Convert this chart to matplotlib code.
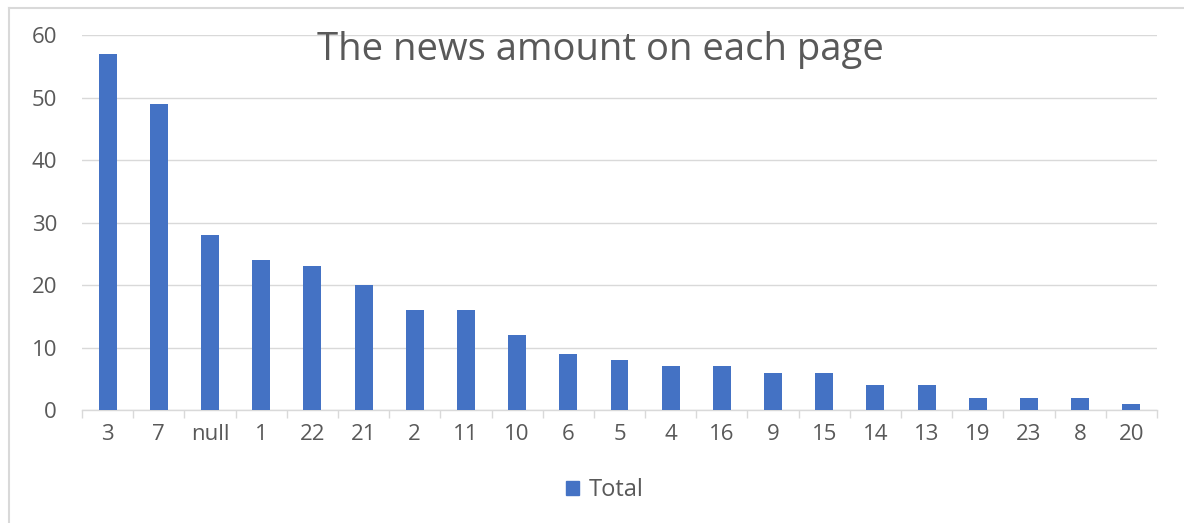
import numpy as np
import matplotlib
matplotlib.use("Agg")
import matplotlib.pyplot as plt
from matplotlib.lines import Line2D
from matplotlib.patches import Patch

pages = ["3", "7", "null", "1", "22", "21", "2", "11", "10", "6", "5",
         "4", "16", "9", "15", "14", "13", "19", "23", "8", "20"]
totals = [57, 49, 28, 24, 23, 20, 16, 16, 12, 9, 8,
          7, 7, 6, 6, 4, 4, 2, 2, 2, 1]
y_ticks = [0, 10, 20, 30, 40, 50, 60]

BAR = "#4472C4"
GRID = "#D9D9D9"
TEXT = "#595959"

plt.rcParams["font.family"] = ["Open Sans", "DejaVu Sans"]

W, H = 1184, 523
fig = plt.figure(figsize=(W / 100, H / 100), dpi=100)
ax = fig.add_axes([82 / W, 1 - 410 / H, (1157 - 82) / W, (410 - 35) / H])

x = np.arange(len(pages))
ax.bar(x, totals, width=0.35, color=BAR, zorder=3)

ax.set_xlim(-0.5, len(pages) - 0.5)
ax.set_ylim(0, 60)
ax.set_yticks(y_ticks)
ax.set_yticklabels([str(v) for v in y_ticks], fontsize=16, color=TEXT)
ax.set_xticks(x)
ax.set_xticklabels(pages, fontsize=16, color=TEXT)
ax.set_xticks(np.arange(-0.5, len(pages)), minor=True)
ax.tick_params(axis="x", which="major", length=0, pad=10)
ax.tick_params(axis="x", which="minor", length=6, color=GRID, width=1)
ax.tick_params(axis="y", length=0, pad=18)

ax.grid(axis="y", color=GRID, linewidth=1, zorder=0)
for side in ["top", "right", "left"]:
    ax.spines[side].set_visible(False)
ax.spines["bottom"].set_color(GRID)
ax.spines["bottom"].set_linewidth(1)

fig.text(600 / W, 1 - 50 / H, "The news amount on each page",
         ha="center", va="center", fontsize=27.5, color=TEXT)

fig.legend(handles=[Patch(color=BAR, label="Total")], loc="center",
           bbox_to_anchor=(605 / W, 1 - 490 / H), frameon=False,
           fontsize=17, labelcolor=TEXT, handlelength=0.55, handleheight=0.55,
           handletextpad=0.4)

# chart border (left and top edges visible in the crop)
fig.add_artist(Line2D([9 / W, 9 / W], [0, 1 - 8 / H], color=GRID, linewidth=1.5))
fig.add_artist(Line2D([9 / W, 1], [1 - 8 / H, 1 - 8 / H], color=GRID, linewidth=1.5))

fig.savefig("out.png", dpi=100)
